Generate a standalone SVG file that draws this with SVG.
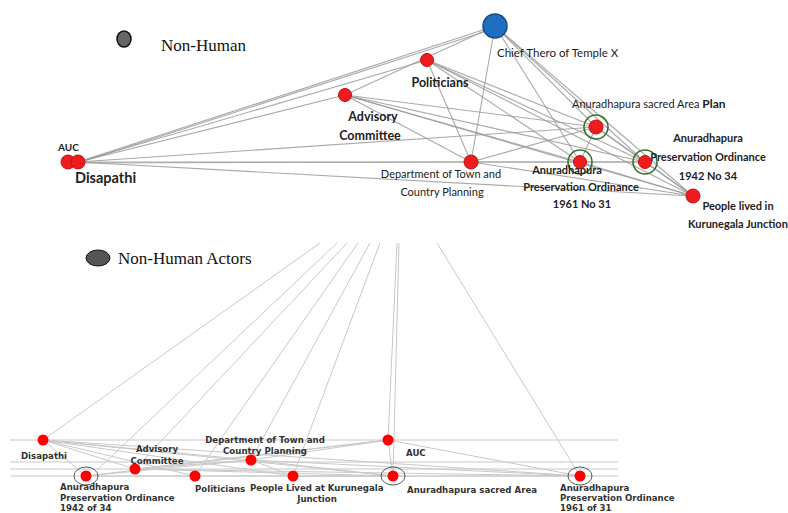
<svg xmlns="http://www.w3.org/2000/svg" width="788" height="513" viewBox="0 0 788 513">
<style>
.e{stroke:#9a9a9a;stroke-width:1.1;fill:none;opacity:.85}
.ef{stroke:#c8c8c8;stroke-width:1;fill:none}
.r{fill:#ee1c1c;stroke:#c21010;stroke-width:1}
.rb{fill:#f00;stroke:none}
.ring{fill:none;stroke:#3d6e2c;stroke-width:1.6}
.ringb{fill:none;stroke:#555;stroke-width:1}
.t{font-family:Lato,"Liberation Sans",sans-serif;fill:#222}
.tb{font-family:Lato,"Liberation Sans",sans-serif;font-weight:bold;fill:#222}
.bl{font-family:"DejaVu Sans","Liberation Sans",sans-serif;font-weight:bold;font-size:8.6px;fill:#333}
.lg{font-family:"Liberation Serif",serif;font-size:17px;fill:#111}
</style>
<rect width="788" height="513" fill="#fff"/>
<g id="legend-top">
<ellipse cx="124" cy="39" rx="7" ry="8" fill="#666" stroke="#111" stroke-width="1.5"/>
<text class="lg" x="161" y="51">Non-Human</text>
</g>
<g id="connectors-top">
<line class="e" x1="495" y1="26" x2="78" y2="162"/>
<line class="e" x1="490" y1="30" x2="78" y2="163"/>
<line class="e" x1="495" y1="26" x2="345" y2="95"/>
<line class="e" x1="495" y1="26" x2="471" y2="162"/>
<line class="e" x1="495" y1="26" x2="580" y2="162"/>
<line class="e" x1="495" y1="26" x2="596" y2="127"/>
<line class="e" x1="495" y1="26" x2="645" y2="162"/>
<line class="e" x1="495" y1="26" x2="693" y2="196"/>
<line class="e" x1="427" y1="60" x2="78" y2="162"/>
<line class="e" x1="427" y1="60" x2="471" y2="162"/>
<line class="e" x1="427" y1="60" x2="596" y2="127"/>
<line class="e" x1="427" y1="60" x2="580" y2="162"/>
<line class="e" x1="427" y1="60" x2="645" y2="162"/>
<line class="e" x1="427" y1="60" x2="693" y2="196"/>
<line class="e" x1="345" y1="95" x2="78" y2="162"/>
<line class="e" x1="345" y1="95" x2="471" y2="162"/>
<line class="e" x1="345" y1="95" x2="596" y2="127"/>
<line class="e" x1="345" y1="95" x2="580" y2="162"/>
<line class="e" x1="345" y1="95" x2="645" y2="162"/>
<line class="e" x1="345" y1="95" x2="693" y2="196"/>
<line class="e" x1="78" y1="162" x2="596" y2="127"/>
<line class="e" x1="78" y1="162" x2="645" y2="162"/>
<line class="e" x1="78" y1="163" x2="471" y2="162"/>
<line class="e" x1="78" y1="162" x2="693" y2="196"/>
<line class="e" x1="471" y1="162" x2="596" y2="127"/>
<line class="e" x1="471" y1="162" x2="580" y2="162"/>
<line class="e" x1="471" y1="162" x2="693" y2="196"/>
<line class="e" x1="596" y1="127" x2="645" y2="162"/>
<line class="e" x1="596" y1="127" x2="693" y2="196"/>
<line class="e" x1="596" y1="127" x2="580" y2="162"/>
<line class="e" x1="580" y1="162" x2="645" y2="162"/>
<line class="e" x1="580" y1="162" x2="693" y2="196"/>
<line class="e" x1="645" y1="162" x2="693" y2="196"/>
</g>
<g id="chief-thero">
<circle cx="495" cy="26" r="12" fill="#1f6fc0" stroke="#154a85" stroke-width="1.5"/>
<text class="t" x="497" y="57" font-size="11.5">Chief Thero of Temple X</text>
</g>
<g id="politicians-top">
<circle class="r" cx="427" cy="60" r="6.5"/>
<text class="tb" x="440" y="87" font-size="12.5" text-anchor="middle">Politicians</text>
</g>
<g id="advisory-top">
<circle class="r" cx="345" cy="95" r="6.5"/>
<text class="tb" x="373" y="121" font-size="12.5" text-anchor="middle">Advisory</text>
<text class="tb" x="370" y="140" font-size="12.5" text-anchor="middle">Committee</text>
</g>
<g id="auc-disapathi-top">
<circle class="r" cx="68" cy="162" r="7"/>
<circle class="r" cx="78" cy="162" r="7"/>
<text class="tb" x="58" y="151" font-size="10">AUC</text>
<text class="tb" x="75" y="183" font-size="14.5">Disapathi</text>
</g>
<g id="dept-top">
<circle class="r" cx="471" cy="162" r="7"/>
<text class="t" x="441" y="178" font-size="11" text-anchor="middle" fill="#111">Department of Town and</text>
<text class="t" x="442" y="196" font-size="11" text-anchor="middle" fill="#555">Country Planning</text>
</g>
<g id="sacred-area-top">
<circle class="ring" cx="596" cy="127" r="12"/>
<circle class="r" cx="596" cy="127" r="7"/>
<text class="t" x="572" y="108" font-size="11">Anuradhapura sacred Area <tspan font-weight="bold" font-size="12">Plan</tspan></text>
</g>
<g id="ordinance-1961-top">
<circle class="ring" cx="580" cy="162" r="12"/>
<circle class="r" cx="580" cy="162" r="6.5"/>
<text class="tb" x="567" y="174" font-size="11" text-anchor="middle">Anuradhapura</text>
<text class="tb" x="581" y="191" font-size="11" text-anchor="middle">Preservation Ordinance</text>
<text class="tb" x="582" y="208" font-size="11" text-anchor="middle">1961 No 31</text>
</g>
<g id="ordinance-1942-top">
<circle class="ring" cx="645" cy="162" r="12"/>
<circle class="r" cx="645" cy="162" r="6.5"/>
<text class="tb" x="708" y="142" font-size="11" text-anchor="middle">Anuradhapura</text>
<text class="tb" x="708" y="161" font-size="11" text-anchor="middle">Preservation Ordinance</text>
<text class="tb" x="708" y="180" font-size="11" text-anchor="middle">1942 No 34</text>
</g>
<g id="people-top">
<circle class="r" cx="693" cy="196" r="7"/>
<text class="tb" x="738" y="210" font-size="11" text-anchor="middle">People lived in</text>
<text class="tb" x="738" y="228" font-size="11" text-anchor="middle">Kurunegala Junction</text>
</g>
<g id="legend-bottom">
<ellipse cx="98" cy="258" rx="12" ry="8" fill="#555" stroke="#111" stroke-width="1"/>
<text class="lg" x="118" y="264">Non-Human Actors</text>
</g>
<g id="connectors-bottom">
<line class="ef" x1="10" y1="440" x2="618" y2="440"/>
<line class="ef" x1="10" y1="462" x2="618" y2="462"/>
<line class="ef" x1="10" y1="469" x2="618" y2="469"/>
<line class="ef" x1="10" y1="476" x2="618" y2="476"/>
<line class="ef" x1="320" y1="243" x2="43" y2="440"/>
<line class="ef" x1="337" y1="243" x2="97" y2="470"/>
<line class="ef" x1="347" y1="243" x2="135" y2="469"/>
<line class="ef" x1="358" y1="243" x2="195" y2="476"/>
<line class="ef" x1="370" y1="243" x2="251" y2="460"/>
<line class="ef" x1="380" y1="243" x2="293" y2="476"/>
<line class="ef" x1="397" y1="243" x2="388" y2="440"/>
<line class="ef" x1="399" y1="243" x2="393" y2="476"/>
<line class="ef" x1="437" y1="243" x2="580" y2="476"/>
<line class="ef" x1="43" y1="440" x2="86" y2="476"/>
<line class="ef" x1="43" y1="440" x2="135" y2="469"/>
<line class="ef" x1="43" y1="440" x2="195" y2="476"/>
<line class="ef" x1="43" y1="440" x2="251" y2="460"/>
<line class="ef" x1="43" y1="440" x2="293" y2="476"/>
<line class="ef" x1="43" y1="440" x2="393" y2="476"/>
<line class="ef" x1="43" y1="440" x2="580" y2="476"/>
<line class="ef" x1="388" y1="440" x2="251" y2="460"/>
<line class="ef" x1="388" y1="440" x2="135" y2="469"/>
<line class="ef" x1="388" y1="440" x2="86" y2="476"/>
<line class="ef" x1="388" y1="440" x2="580" y2="476"/>
<line class="ef" x1="388" y1="440" x2="393" y2="476"/>
<line class="ef" x1="251" y1="460" x2="86" y2="476"/>
<line class="ef" x1="251" y1="460" x2="393" y2="476"/>
<line class="ef" x1="251" y1="460" x2="293" y2="476"/>
<line class="ef" x1="251" y1="460" x2="580" y2="476"/>
<line class="ef" x1="135" y1="469" x2="393" y2="476"/>
<line class="ef" x1="135" y1="469" x2="580" y2="476"/>
<line class="ef" x1="135" y1="469" x2="251" y2="460"/>
<line class="ef" x1="293" y1="476" x2="393" y2="476"/>
<line class="ef" x1="86" y1="476" x2="580" y2="476"/>
</g>
<g id="disapathi-bottom">
<circle class="rb" cx="43" cy="440" r="5.5"/>
<text class="bl" x="44" y="459" text-anchor="middle">Disapathi</text>
</g>
<g id="advisory-bottom">
<circle class="rb" cx="135" cy="469" r="5.5"/>
<text class="bl" x="157" y="452" text-anchor="middle">Advisory</text>
<text class="bl" x="157" y="464" text-anchor="middle">Committee</text>
</g>
<g id="dept-bottom">
<circle class="rb" cx="251" cy="460" r="5.5"/>
<text class="bl" x="265" y="443" text-anchor="middle">Department of Town and</text>
<text class="bl" x="265" y="454" text-anchor="middle">Country Planning</text>
</g>
<g id="ordinance-1942-bottom">
<ellipse class="ringb" cx="86" cy="476" rx="12" ry="9"/>
<circle class="rb" cx="86" cy="476" r="5.5"/>
<text class="bl" x="60" y="490">Anuradhapura</text>
<text class="bl" x="60" y="500.5">Preservation Ordinance</text>
<text class="bl" x="60" y="510.5">1942 of 34</text>
</g>
<g id="politicians-bottom">
<circle class="rb" cx="195" cy="476" r="5.5"/>
<text class="bl" x="195" y="492">Politicians</text>
</g>
<g id="people-bottom">
<circle class="rb" cx="293" cy="476" r="5.5"/>
<text class="bl" x="250" y="491">People  Lived at Kurunegala</text>
<text class="bl" x="317" y="502" text-anchor="middle">Junction</text>
</g>
<g id="auc-bottom">
<circle class="rb" cx="388" cy="440" r="5.5"/>
<text class="bl" x="406" y="456">AUC</text>
</g>
<g id="sacred-area-bottom">
<ellipse class="ringb" cx="393" cy="476" rx="12" ry="9"/>
<circle class="rb" cx="393" cy="476" r="5.5"/>
<text class="bl" x="407" y="493">Anuradhapura sacred  Area</text>
</g>
<g id="ordinance-1961-bottom">
<ellipse class="ringb" cx="580" cy="476" rx="12" ry="9"/>
<circle class="rb" cx="580" cy="476" r="5.5"/>
<text class="bl" x="560" y="491">Anuradhapura</text>
<text class="bl" x="560" y="501">Preservation Ordinance</text>
<text class="bl" x="560" y="510.5">1961 of 31</text>
</g>
</svg>
